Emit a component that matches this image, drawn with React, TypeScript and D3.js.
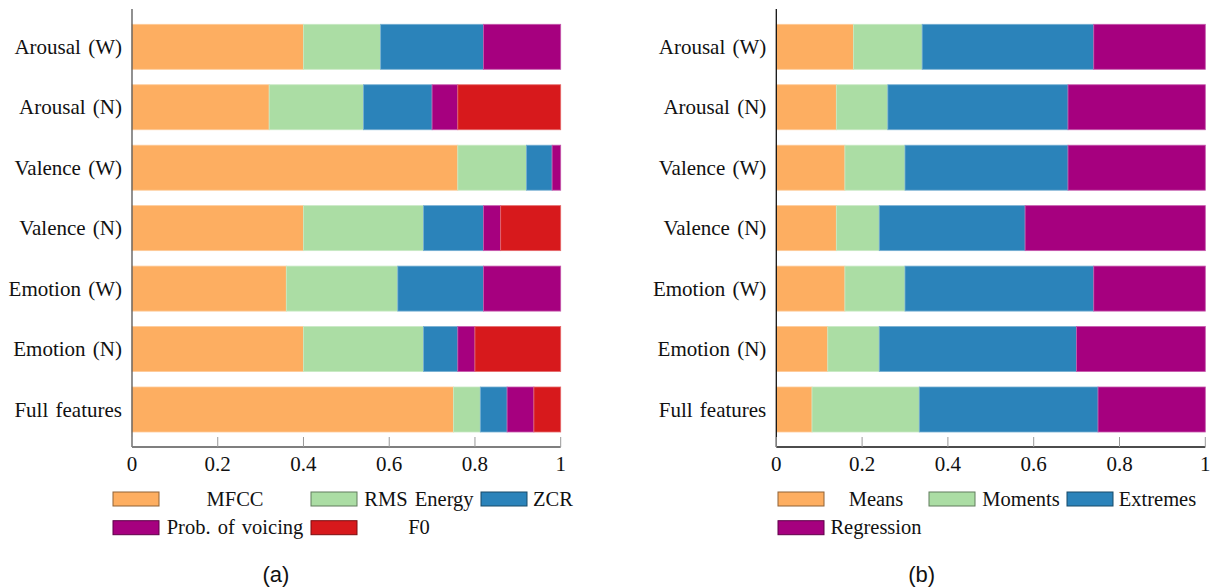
import React from "react";
import * as d3 from "d3";

const categories = ["Arousal (W)", "Arousal (N)", "Valence (W)", "Valence (N)", "Emotion (W)", "Emotion (N)", "Full features"];

// Panel (a): feature groups
const seriesA = ["MFCC", "RMS Energy", "ZCR", "Prob. of voicing", "F0"];
const mfcc = [0.40, 0.32, 0.76, 0.40, 0.36, 0.40, 0.75];
const rmsEnergy = [0.18, 0.22, 0.16, 0.28, 0.26, 0.28, 0.0625];
const zcr = [0.24, 0.16, 0.06, 0.14, 0.20, 0.08, 0.0625];
const probVoicing = [0.18, 0.06, 0.02, 0.04, 0.18, 0.04, 0.0625];
const f0 = [0.0, 0.24, 0.0, 0.14, 0.0, 0.20, 0.0625];

// Panel (b): functionals
const seriesB = ["Means", "Moments", "Extremes", "Regression"];
const means = [0.18, 0.14, 0.16, 0.14, 0.16, 0.12, 0.0833];
const moments = [0.16, 0.12, 0.14, 0.10, 0.14, 0.12, 0.25];
const extremes = [0.40, 0.42, 0.38, 0.34, 0.44, 0.46, 0.4167];
const regression = [0.26, 0.32, 0.32, 0.42, 0.26, 0.30, 0.25];

const xTicks = [0, 0.2, 0.4, 0.6, 0.8, 1];
const xTickLabels = ["0", "0.2", "0.4", "0.6", "0.8", "1"];

const colorsA = ["#fdae61", "#abdda4", "#2b83ba", "#a6007f", "#d7191c"];
const colorsB = ["#fdae61", "#abdda4", "#2b83ba", "#a6007f"];

const SERIF = "Liberation Serif";
const SANS = "Liberation Sans";

type PanelProps = {
  x0: number;
  x1: number;
  series: string[];
  values: number[][];
  colors: string[];
  axisColor: string;
  legendSwatchX: number[];
  legendTextX: number[];
  caption: string;
  captionX: number;
};

function lighten(c: string, k: number) {
  return d3.interpolateRgb(c, "#ffffff")(k);
}

const serifStyle = { fontFamily: SERIF } as React.CSSProperties;

function Panel(p: PanelProps) {
  const x = d3.scaleLinear().domain([0, 1]).range([p.x0, p.x1]);
  const y = d3.scalePoint<string>().domain(categories).range([46.8, 409.5]);
  const barH = 45;
  const axisY = 447;

  const rows = categories.map((cat, i) => {
    const vals = p.values.map((s) => s[i]);
    let acc = 0;
    const segs = vals.map((v, k) => {
      const s = { start: acc, end: acc + v, k };
      acc += v;
      return s;
    });
    return { cat, segs };
  });

  const ncol = 3;
  return (
    <g>
      {rows.map((r) => (
        <g key={r.cat}>
          {r.segs
            .filter((s) => s.end - s.start > 0)
            .map((s) => (
              <rect
                key={s.k}
                x={x(s.start)}
                y={(y(r.cat) as number) - barH / 2}
                width={x(Math.min(s.end, 1)) - x(s.start)}
                height={barH}
                fill={p.colors[s.k]}
                stroke={lighten(p.colors[s.k], 0.35)}
                strokeWidth={0.8}
              />
            ))}
          <text
            x={p.x0 - 10}
            y={(y(r.cat) as number) + 7}
            textAnchor="end"
            style={serifStyle}
            fontSize={21}
            fill="#111"
            wordSpacing={2}
          >
            {r.cat}
          </text>
        </g>
      ))}
      {/* axes */}
      <line x1={p.x0} x2={p.x0} y1={9} y2={axisY} stroke={p.axisColor} strokeWidth={1.3} />
      <line x1={p.x0} x2={p.x1} y1={axisY} y2={axisY} stroke={p.axisColor} strokeWidth={1.3} />
      {xTicks.map((t, i) => (
        <g key={t}>
          <line x1={x(t)} x2={x(t)} y1={axisY - 10} y2={axisY} stroke="#999" strokeWidth={1} />
          <text
            x={x(t)}
            y={470.5}
            textAnchor="middle"
            style={serifStyle}
            fontSize={21}
            fill="#111"
          >
            {xTickLabels[i]}
          </text>
        </g>
      ))}
      {/* legend */}
      {p.series.map((name, k) => {
        const row = Math.floor(k / ncol);
        const col = k % ncol;
        const cy = 499 + row * 28.7;
        return (
          <g key={name}>
            <rect
              x={p.legendSwatchX[col]}
              y={cy - 7}
              width={46}
              height={14}
              fill={p.colors[k]}
              stroke={d3.color(p.colors[k])!.darker(1.6).toString()}
              strokeWidth={1}
            />
            <text
              x={p.legendTextX[col]}
              y={cy + 6.5}
              textAnchor="middle"
              style={serifStyle}
              fontSize={20.5}
              fill="#111"
              wordSpacing={2}
            >
              {name}
            </text>
          </g>
        );
      })}
      <text
        x={p.captionX}
        y={582}
        textAnchor="middle"
        style={{ fontFamily: SANS }}
        fontSize={22}
        fill="#111"
      >
        {p.caption}
      </text>
    </g>
  );
}

export default function App() {
  return (
    <div style={{ position: "absolute", left: 0, top: 0 }}>
      <svg width={1210} height={587} viewBox="0 0 1210 587" style={{ display: "block", background: "#fff" }}>
        <Panel
          x0={132}
          x1={560.7}
          series={seriesA}
          values={[mfcc, rmsEnergy, zcr, probVoicing, f0]}
          colors={colorsA}
          axisColor="#555"
          legendSwatchX={[113, 311, 481]}
          legendTextX={[235, 419, 553]}
          caption="(a)"
          captionX={276}
        />
        <Panel
          x0={776.3}
          x1={1205.3}
          series={seriesB}
          values={[means, moments, extremes, regression]}
          colors={colorsB}
          axisColor="#111"
          legendSwatchX={[778, 929, 1067]}
          legendTextX={[876, 1021, 1157.5]}
          caption="(b)"
          captionX={921.7}
        />
      </svg>
    </div>
  );
}
